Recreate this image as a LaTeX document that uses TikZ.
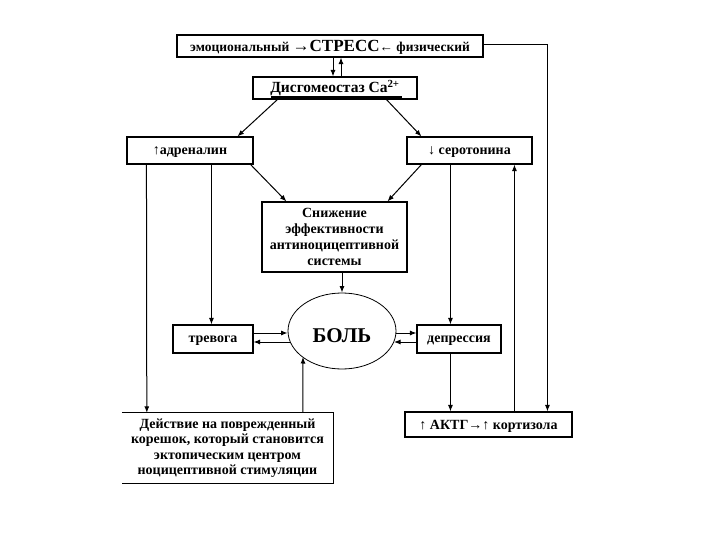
\documentclass[tikz,border=0pt]{standalone}
\usepackage{fontspec}
\setmainfont{Liberation Serif}
\usetikzlibrary{arrows.meta,calc,shapes.geometric}
\begin{document}
\begin{tikzpicture}[x=1pt,y=-1pt,
  box/.style={draw,line width=1.1pt,inner sep=1pt,align=center,font=\bfseries\fontsize{14}{15}\selectfont},
  one/.style={text depth=0pt},
  plain/.style={inner sep=1pt,align=center,font=\bfseries\fontsize{14}{15.5}\selectfont},
  arr/.style={line width=1pt,-{Latex[length=6.5pt,width=5pt]}}]
\useasboundingbox (0,0) rectangle (720,540);
\fill[white] (0,0) rectangle (720,540);
% nodes
\node[box,one,minimum width=306,minimum height=22,font=\bfseries\fontsize{13.5}{14}\selectfont] (top) at (330,46)
  {эмоциональный {\fontsize{17}{17}\selectfont→СТРЕСС}← физический};
\node[box,minimum width=164,minimum height=22,font=\bfseries\fontsize{15.5}{16}\selectfont] (ca) at (335,88)
  {Дисгомеостаз Ca\textsuperscript{2+}};
\node[box,one,minimum width=126,minimum height=27] (adr) at (190,150.5) {↑адреналин};
\node[box,one,minimum width=125,minimum height=27] (ser) at (469.5,150.5) {↓ серотонина};
\node[box,minimum width=145,minimum height=70,font=\bfseries\fontsize{14}{16}\selectfont] (mid) at (334.5,237)
  {Снижение\\эффективности\\антиноцицептивной\\системы};
\node[ellipse,draw,line width=0.8pt,minimum width=108,minimum height=76,inner sep=0pt,text height=23pt,text depth=0pt,font=\bfseries\fontsize{21}{21}\selectfont] (bol) at (342,331) {БОЛЬ};
\node[box,one,minimum width=80,minimum height=28] (trev) at (213,339) {тревога};
\node[box,one,minimum width=84,minimum height=28] (dep) at (459,339) {депрессия};
\node[plain,minimum width=211,minimum height=70] (bl) at (227.5,448)
  {Действие на поврежденный\\корешок, который становится\\эктопическим центром\\ноцицептивной стимуляции};
\draw[line width=1.1pt] (bl.north west) -- (bl.north east) -- (bl.south east) -- (bl.south west);
\node[box,one,minimum width=167,minimum height=25] (aktg) at (488.5,424.5) {↑ АКТГ→↑ кортизола};
% black bar in Ca box
\fill ($(ca.south west)+(19,-4)$) rectangle ($(ca.south west)+(150,-1)$);
% connectors
\draw[arr] ($(top.south)+(3,0)$) -- ($(ca.north)+(-2,0)$);
\draw[arr] ($(ca.north)+(6,0)$) -- ($(top.south)+(11,0)$);
\draw[arr] ($(ca.south west)+(25,0)$) -- ($(adr.north west)+(111,0)$);
\draw[arr] ($(ca.south west)+(134,0)$) -- ($(ser.north west)+(15,0)$);
\draw[arr] ($(adr.south east)+(-3,0)$) -- ($(mid.north west)+(25,0)$);
\draw[arr] ($(ser.south west)+(15,0)$) -- ($(mid.north west)+(126,0)$);
\draw[arr] ($(adr.south west)+(20,0)$) -- ($(bl.north west)+(25,0)$);
\draw[arr] ($(adr.south west)+(85,0)$) -- ($(trev.north west)+(39,0)$);
\draw[arr] ($(ser.south west)+(44,0)$) -- ($(dep.north west)+(34,0)$);
\draw[arr] ($(aktg.north west)+(110,0)$) -- ($(ser.south west)+(108,0)$);
\draw[arr] ($(top.east)+(0,-1)$) -| ($(aktg.north west)+(143,0)$);
\draw[arr] ($(mid.south)+(7.5,0)$) -- (bol.north);
\draw[arr] ($(trev.east)+(0,-6)$) -- ($(bol.west)+(0,2)$);
\draw[arr] ($(bol.center)+(-52,11)$) -- ($(trev.east)+(0,3)$);
\draw[arr] ($(bol.center)+(54,2)$) -- ($(dep.west)+(0,-6)$);
\draw[arr] ($(dep.west)+(0,3)$) -- ($(bol.center)+(52,11)$);
\draw[arr] ($(bl.north west)+(181,0)$) -- ($(bol.center)+(-39,26)$);
\draw[arr] ($(dep.south west)+(34,0)$) -- ($(aktg.north west)+(46,0)$);
\end{tikzpicture}
\end{document}
